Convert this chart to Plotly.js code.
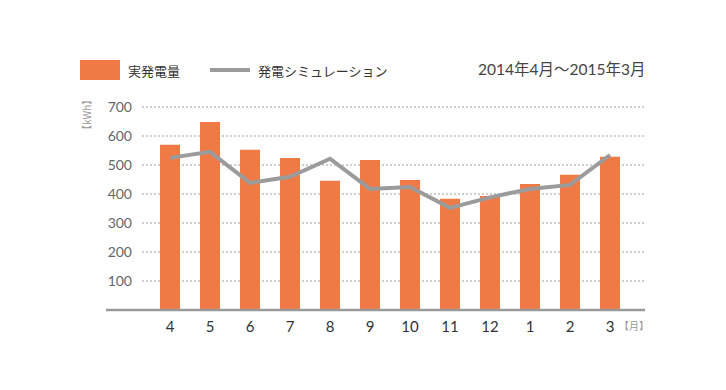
<!DOCTYPE html>
<html><head><meta charset="utf-8">
<script src="https://cdn.plot.ly/plotly-3.0.1.min.js"></script>
<style>html,body{margin:0;padding:0;background:#fff;}#c{width:726px;height:390px;}</style>
</head><body><div id="c"></div>
<script>
const months = ['4','5','6','7','8','9','10','11','12','1','2','3'];
const actual = [569, 648, 552, 524, 445, 517, 448, 383, 393, 434, 466, 528];
const simulation = [524, 545, 438, 459, 521, 417, 424, 352, 388, 417, 431, 534];
const yTicks = [100, 200, 300, 400, 500, 600, 700];

const L = 142, R = 645, T = 101, B = 310, W = 726, H = 390;
const px = x => (x - L) / (R - L);
const py = y => (B - y) / (B - T);
const FONT = "Lato, 'Noto Sans CJK JP', sans-serif";
const JP = "'Noto Sans CJK JP', Lato, sans-serif";

const traces = [
  {type: 'bar', x: months, y: actual, name: '実発電量', width: 0.5,
   marker: {color: '#f07a45', line: {width: 0}}, hoverinfo: 'skip'},
  {type: 'scatter', mode: 'lines', x: months, y: simulation, name: '発電シミュレーション',
   line: {color: '#9b9b9b', width: 4}, hoverinfo: 'skip'}
];

const layout = {
  width: W, height: H,
  margin: {l: L, r: W - R, t: T, b: H - B, pad: 0},
  paper_bgcolor: '#fff', plot_bgcolor: '#fff',
  showlegend: false,
  font: {family: FONT, color: '#333'},
  xaxis: {type: 'category', range: [-0.7, 11.875], showgrid: false, zeroline: false,
    showline: false, ticks: '', tickfont: {size: 15, color: '#333', family: FONT},
    ticklabelstandoff: 6},
  yaxis: {range: [0, 720], tickvals: yTicks, showgrid: true, gridcolor: '#cfcfcf',
    griddash: '2px,2px', gridwidth: 1.5, zeroline: false, showline: false, ticks: '',
    tickfont: {size: 14, color: '#666', family: FONT}, ticklabelstandoff: 9},
  shapes: [
    {type: 'line', xref: 'paper', yref: 'paper', x0: px(106), x1: 1, y0: 0, y1: 0,
     line: {color: '#999', width: 2.5}},
    {type: 'rect', xref: 'paper', yref: 'paper', x0: px(80), x1: px(120), y0: py(80), y1: py(60),
     fillcolor: '#f07a45', line: {width: 0}},
    {type: 'line', xref: 'paper', yref: 'paper', x0: px(210), x1: px(250), y0: py(70), y1: py(70),
     line: {color: '#9b9b9b', width: 4}}
  ],
  annotations: [
    {xref: 'paper', yref: 'paper', x: px(126), y: py(70), xanchor: 'left', yanchor: 'middle',
     text: '実発電量', showarrow: false, font: {family: JP, size: 13, color: '#333'}},
    {xref: 'paper', yref: 'paper', x: px(256), y: py(70), xanchor: 'left', yanchor: 'middle',
     text: '発電シミュレーション', showarrow: false, font: {family: JP, size: 13, color: '#333'}},
    {xref: 'paper', yref: 'paper', x: px(647), y: py(69), xanchor: 'right', yanchor: 'middle',
     text: '2014年4月〜2015年3月', showarrow: false, font: {family: FONT, size: 15.5, color: '#444'}},
    {xref: 'paper', yref: 'paper', x: px(86), y: py(115), xanchor: 'center', yanchor: 'middle',
     text: '【kWh】', textangle: -90, showarrow: false, font: {family: JP, size: 10, color: '#999'}},
    {xref: 'paper', yref: 'paper', x: px(634), y: py(325), xanchor: 'center', yanchor: 'middle',
     text: '【月】', showarrow: false, font: {family: JP, size: 10, color: '#999'}}
  ]
};

Plotly.newPlot('c', traces, layout, {staticPlot: true, displayModeBar: false});
</script></body></html>
